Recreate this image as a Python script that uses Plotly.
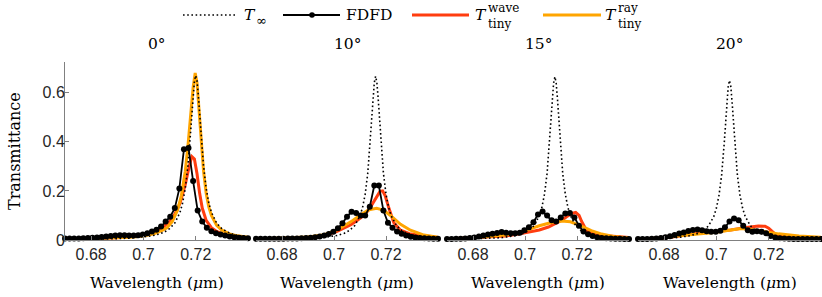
import plotly.graph_objects as go

# ---------------- data ----------------
angles = ["0°", "10°", "15°", "20°"]
xtick_vals = [0.68, 0.7, 0.72]
xtick_text = ["0.68", "0.7", "0.72"]
ytick_vals = [0, 0.2, 0.4, 0.6]
ytick_text = ["0", "0.2", "0.4", "0.6"]

wl_fdfd = [0.67, 0.67175, 0.6735, 0.67525, 0.677, 0.67875, 0.6805, 0.68225, 0.684, 0.68575,
           0.6875, 0.68925, 0.691, 0.69275, 0.6945, 0.69625, 0.698, 0.69975, 0.7015, 0.70325,
           0.705, 0.70675, 0.7085, 0.71025, 0.712, 0.71375, 0.7155, 0.71725, 0.719, 0.72075,
           0.7225, 0.72425, 0.726, 0.72775, 0.7295, 0.73125, 0.733, 0.73475, 0.7365, 0.73825, 0.74]

fdfd_0 = [0.006, 0.006, 0.006, 0.006, 0.007, 0.008, 0.009, 0.010, 0.012, 0.014,
          0.016, 0.018, 0.019, 0.019, 0.018, 0.018, 0.019, 0.022, 0.028, 0.035,
          0.042, 0.055, 0.075, 0.095, 0.130, 0.210, 0.370, 0.375, 0.240, 0.120,
          0.075, 0.050, 0.036, 0.028, 0.022, 0.018, 0.014, 0.011, 0.009, 0.008, 0.007]
fdfd_10 = [0.005, 0.005, 0.005, 0.005, 0.005, 0.005, 0.005, 0.006, 0.006, 0.006,
           0.007, 0.008, 0.009, 0.011, 0.014, 0.018, 0.024, 0.034, 0.048, 0.068,
           0.095, 0.115, 0.110, 0.100, 0.100, 0.135, 0.222, 0.222, 0.120, 0.070,
           0.050, 0.035, 0.025, 0.018, 0.013, 0.010, 0.008, 0.007, 0.006, 0.005, 0.005]
fdfd_15 = [0.004, 0.004, 0.005, 0.005, 0.006, 0.008, 0.010, 0.014, 0.018, 0.022,
           0.025, 0.029, 0.033, 0.030, 0.027, 0.027, 0.030, 0.040, 0.052, 0.072,
           0.104, 0.116, 0.100, 0.080, 0.075, 0.092, 0.108, 0.110, 0.092, 0.058,
           0.035, 0.023, 0.016, 0.011, 0.008, 0.007, 0.006, 0.005, 0.005, 0.004, 0.004]
fdfd_20 = [0.004, 0.004, 0.004, 0.005, 0.006, 0.008, 0.011, 0.015, 0.020, 0.026,
           0.031, 0.037, 0.041, 0.043, 0.040, 0.036, 0.034, 0.034, 0.038, 0.052,
           0.075, 0.088, 0.080, 0.058, 0.040, 0.034, 0.036, 0.034, 0.028, 0.016,
           0.010, 0.007, 0.006, 0.005, 0.004, 0.004, 0.004, 0.004, 0.004, 0.004, 0.004]

# T_infinity
tinf_x_0 = [0.67, 0.68, 0.69, 0.695, 0.70, 0.703, 0.706, 0.708, 0.71, 0.712, 0.714, 0.715, 0.716,
            0.717, 0.718, 0.7185, 0.719, 0.7195, 0.72, 0.7205, 0.721, 0.7215, 0.722, 0.723, 0.724,
            0.725, 0.726, 0.728, 0.73, 0.733, 0.736, 0.74]
tinf_y_0 = [0.002, 0.003, 0.0054, 0.0077, 0.012, 0.0165, 0.024, 0.032, 0.046, 0.069, 0.113, 0.151, 0.21,
            0.30, 0.433, 0.512, 0.589, 0.648, 0.67, 0.648, 0.589, 0.512, 0.433, 0.30, 0.21,
            0.151, 0.113, 0.069, 0.046, 0.0277, 0.0186, 0.012]
tinf_x_10 = [0.67, 0.68, 0.69, 0.696, 0.701, 0.704, 0.706, 0.708, 0.710, 0.711, 0.712, 0.713, 0.714,
             0.7145, 0.715, 0.7155, 0.716, 0.7165, 0.717, 0.7175, 0.718, 0.719, 0.72, 0.721, 0.722,
             0.724, 0.726, 0.728, 0.731, 0.736, 0.74]
tinf_y_10 = [0.002, 0.0032, 0.0061, 0.0103, 0.018, 0.0277, 0.039, 0.059, 0.099, 0.133, 0.187, 0.273, 0.407,
             0.49, 0.575, 0.641, 0.667, 0.641, 0.575, 0.49, 0.407, 0.273, 0.187, 0.133, 0.099,
             0.059, 0.039, 0.028, 0.018, 0.010, 0.0072]
tinf_x_15 = [0.67, 0.68, 0.69, 0.6915, 0.6965, 0.6995, 0.7015, 0.7035, 0.7055, 0.7065, 0.7075, 0.7085,
             0.7095, 0.71, 0.7105, 0.711, 0.7115, 0.712, 0.7125, 0.713, 0.7135, 0.7145, 0.7155, 0.7165,
             0.7175, 0.7195, 0.7215, 0.7235, 0.7265, 0.7315, 0.74]
tinf_y_15 = [0.0024, 0.0042, 0.0089, 0.0102, 0.018, 0.0277, 0.039, 0.059, 0.099, 0.133, 0.187, 0.272,
             0.406, 0.489, 0.573, 0.639, 0.665, 0.639, 0.573, 0.489, 0.406, 0.272, 0.187, 0.133,
             0.099, 0.059, 0.039, 0.0277, 0.018, 0.0102, 0.0051]
tinf_x_20 = [0.67, 0.68, 0.685, 0.69, 0.693, 0.695, 0.697, 0.699, 0.7, 0.701, 0.702, 0.703, 0.7035,
             0.704, 0.7045, 0.705, 0.7055, 0.706, 0.7065, 0.707, 0.708, 0.709, 0.71, 0.711, 0.713,
             0.715, 0.717, 0.72, 0.725, 0.73, 0.74]
tinf_y_20 = [0.0033, 0.0064, 0.010, 0.0176, 0.027, 0.038, 0.058, 0.096, 0.13, 0.183, 0.266, 0.396, 0.478,
             0.56, 0.625, 0.65, 0.625, 0.56, 0.478, 0.396, 0.266, 0.183, 0.13, 0.096, 0.058,
             0.038, 0.027, 0.0176, 0.010, 0.0064, 0.0033]

# T_tiny^wave
wave_x_0 = [0.67, 0.68, 0.69, 0.695, 0.70, 0.704, 0.707, 0.71, 0.712, 0.714, 0.716, 0.7175, 0.7185,
            0.7195, 0.7205, 0.7215, 0.7225, 0.724, 0.726, 0.728, 0.73, 0.733, 0.736, 0.74]
wave_y_0 = [0.003, 0.005, 0.009, 0.014, 0.022, 0.032, 0.048, 0.075, 0.105, 0.15, 0.225, 0.30, 0.34,
            0.33, 0.27, 0.19, 0.13, 0.08, 0.05, 0.035, 0.026, 0.018, 0.012, 0.008]
wave_x_10 = [0.67, 0.68, 0.69, 0.6935, 0.697, 0.701, 0.704, 0.7065, 0.709, 0.7115, 0.7135, 0.7151,
             0.7165, 0.7177, 0.7187, 0.7197, 0.7211, 0.723, 0.7256, 0.729, 0.732, 0.736, 0.74]
wave_y_10 = [0.004, 0.006, 0.009, 0.012, 0.02, 0.034, 0.048, 0.062, 0.08, 0.1, 0.125, 0.155,
             0.18, 0.198, 0.2, 0.18, 0.13, 0.07, 0.04, 0.026, 0.02, 0.014, 0.01]
wave_x_15 = [0.67, 0.68, 0.6925, 0.699, 0.7055, 0.709, 0.712, 0.714, 0.716, 0.718, 0.7195, 0.7208,
             0.7218, 0.7238, 0.7277, 0.734, 0.74]
wave_y_15 = [0.004, 0.008, 0.016, 0.027, 0.041, 0.053, 0.068, 0.08, 0.095, 0.108, 0.112, 0.1,
             0.075, 0.036, 0.02, 0.014, 0.01]
wave_x_20 = [0.67, 0.68, 0.6859, 0.6924, 0.699, 0.7055, 0.7107, 0.7135, 0.716, 0.7186, 0.72, 0.7212,
             0.7225, 0.7238, 0.7316, 0.74]
wave_y_20 = [0.004, 0.008, 0.016, 0.027, 0.034, 0.041, 0.05, 0.055, 0.057, 0.056, 0.048, 0.036,
             0.024, 0.017, 0.012, 0.008]

# T_tiny^ray
ray_x_0 = [0.67, 0.68, 0.69, 0.695, 0.70, 0.704, 0.707, 0.709, 0.711, 0.713, 0.7145, 0.716, 0.717,
           0.718, 0.719, 0.7198, 0.7205, 0.7212, 0.722, 0.723, 0.724, 0.725, 0.726, 0.728, 0.73,
           0.733, 0.736, 0.74]
ray_y_0 = [0.003, 0.005, 0.008, 0.011, 0.016, 0.025, 0.038, 0.05, 0.075, 0.12, 0.18, 0.28, 0.38,
           0.50, 0.62, 0.68, 0.64, 0.54, 0.41, 0.28, 0.19, 0.135, 0.10, 0.06, 0.04,
           0.025, 0.017, 0.011]
ray_x_10 = [0.67, 0.68, 0.69, 0.6958, 0.701, 0.7066, 0.7105, 0.7135, 0.7164, 0.719, 0.7217, 0.7256,
            0.7294, 0.7346, 0.74]
ray_y_10 = [0.004, 0.007, 0.012, 0.02, 0.04, 0.075, 0.105, 0.123, 0.129, 0.122, 0.1, 0.064,
            0.04, 0.02, 0.011]
ray_x_15 = [0.67, 0.68, 0.6925, 0.699, 0.7055, 0.7105, 0.714, 0.7175, 0.7215, 0.7255, 0.729, 0.734, 0.74]
ray_y_15 = [0.004, 0.009, 0.02, 0.034, 0.058, 0.072, 0.077, 0.074, 0.058, 0.038, 0.026, 0.014, 0.008]
ray_x_20 = [0.67, 0.68, 0.6859, 0.699, 0.7055, 0.7094, 0.7133, 0.7186, 0.7238, 0.7316, 0.74]
ray_y_20 = [0.004, 0.009, 0.017, 0.03, 0.041, 0.047, 0.043, 0.034, 0.025, 0.016, 0.011]

fdfd = [fdfd_0, fdfd_10, fdfd_15, fdfd_20]
tinf = [(tinf_x_0, tinf_y_0), (tinf_x_10, tinf_y_10), (tinf_x_15, tinf_y_15), (tinf_x_20, tinf_y_20)]
wave = [(wave_x_0, wave_y_0), (wave_x_10, wave_y_10), (wave_x_15, wave_y_15), (wave_x_20, wave_y_20)]
ray = [(ray_x_0, ray_y_0), (ray_x_10, ray_y_10), (ray_x_15, ray_y_15), (ray_x_20, ray_y_20)]

# ---------------- style ----------------
W, H = 822, 297
RED = "#FF3D0F"
ORANGE = "#FFA500"
GRAY = "#808080"
SERIF = "DejaVu Serif"
SANS = "Liberation Sans"
FS = 15.5


def px(x):
    return x / W


def py(y):
    return 1 - y / H


panels_px = [(65, 248), (256, 438), (447, 629), (638, 821)]
ydom = [py(240), py(62)]

fig = go.Figure()
for i in range(4):
    xa = "x" if i == 0 else f"x{i+1}"
    ya = "y" if i == 0 else f"y{i+1}"
    fig.add_trace(go.Scatter(x=wave[i][0], y=wave[i][1], xaxis=xa, yaxis=ya, mode="lines",
                             line=dict(color=RED, width=3), showlegend=False, cliponaxis=False))
    fig.add_trace(go.Scatter(x=ray[i][0], y=ray[i][1], xaxis=xa, yaxis=ya, mode="lines",
                             line=dict(color=ORANGE, width=3), showlegend=False, cliponaxis=False))
    fig.add_trace(go.Scatter(x=wl_fdfd, y=fdfd[i], xaxis=xa, yaxis=ya, mode="lines+markers",
                             line=dict(color="black", width=1.8),
                             marker=dict(color="black", size=6), showlegend=False, cliponaxis=False))
    fig.add_trace(go.Scatter(x=tinf[i][0], y=tinf[i][1], xaxis=xa, yaxis=ya, mode="lines",
                             line=dict(color="black", width=1.6, dash="1.6px,2.6px"),
                             showlegend=False, cliponaxis=False))

layout = dict(width=W, height=H, margin=dict(l=0, r=0, t=0, b=0, autoexpand=False),
              paper_bgcolor="white", plot_bgcolor="white", showlegend=False)
for i in range(4):
    a, b = panels_px[i]
    kx = "xaxis" if i == 0 else f"xaxis{i+1}"
    ky = "yaxis" if i == 0 else f"yaxis{i+1}"
    layout[kx] = dict(domain=[px(a), px(b)], range=[0.67, 0.74], anchor="y" if i == 0 else f"y{i+1}",
                      tickvals=xtick_vals, ticktext=xtick_text, ticks="inside", ticklen=4,
                      tickcolor=GRAY, tickwidth=1, showline=True, linecolor=GRAY, linewidth=1,
                      showgrid=False, zeroline=False, automargin=False,
                      tickfont=dict(family=SANS, size=16, color="#262626"))
    layout[ky] = dict(domain=ydom, range=[0, 0.725], anchor="x" if i == 0 else f"x{i+1}",
                      showgrid=False, zeroline=False, showline=(i == 0), linecolor=GRAY, linewidth=1,
                      ticks="inside" if i == 0 else "", ticklen=4, tickcolor=GRAY, automargin=False,
                      showticklabels=(i == 0), tickvals=ytick_vals, ticktext=ytick_text,
                      ticklabelstandoff=-4,
                      tickfont=dict(family=SANS, size=16, color="#262626"))
fig.update_layout(**layout)


def label(x, y, text, font, xanchor="center", angle=0):
    return dict(x=px(x), y=py(y), xref="paper", yref="paper", text=text, showarrow=False,
                xanchor=xanchor, yanchor="middle", textangle=angle, font=font)


lf = dict(family=SERIF, size=FS, color="black")
sf = dict(family=SERIF, size=12, color="black")

ann = []
for i in range(4):
    a, b = panels_px[i]
    ann.append(label((a + b) / 2, 44, angles[i], lf))
    ann.append(label((a + b) / 2, 283, "Wavelength (<i>μ</i>m)", lf))
ann.append(label(14, 151, "Transmittance", dict(family=SERIF, size=16, color="black"), angle=-90))

# legend (manual)
LY = 15
shapes = [
    dict(type="line", xref="paper", yref="paper", x0=px(183), x1=px(237), y0=py(LY), y1=py(LY),
         line=dict(color="black", width=1.6, dash="1.6px,2.6px")),
    dict(type="line", xref="paper", yref="paper", x0=px(283), x1=px(340), y0=py(LY), y1=py(LY),
         line=dict(color="black", width=1.8)),
    dict(type="circle", xref="paper", yref="paper", xsizemode="pixel", ysizemode="pixel",
         xanchor=px(312), yanchor=py(LY), x0=-2.8, x1=2.8, y0=-2.8, y1=2.8,
         fillcolor="black", line=dict(color="black", width=0)),
    dict(type="line", xref="paper", yref="paper", x0=px(412), x1=px(469), y0=py(LY), y1=py(LY),
         line=dict(color=RED, width=3)),
    dict(type="line", xref="paper", yref="paper", x0=px(543), x1=px(601), y0=py(LY), y1=py(LY),
         line=dict(color=ORANGE, width=3)),
]
ann += [
    label(242, LY, "<i>T</i>", lf, "left"),
    label(254, 20, "∞", dict(family=SERIF, size=13, color="black"), "left"),
    label(344, LY, "FDFD", lf, "left"),
    label(473, LY, "<i>T</i>", lf, "left"),
    label(486, 8, "wave", sf, "left"),
    label(486, 24, "tiny", sf, "left"),
    label(603, LY, "<i>T</i>", lf, "left"),
    label(616, 8, "ray", sf, "left"),
    label(616, 24, "tiny", sf, "left"),
]
fig.update_layout(annotations=ann, shapes=shapes)
fig.write_html("out.html", config={"displayModeBar": False},
               post_script="document.body.style.margin='0';")
